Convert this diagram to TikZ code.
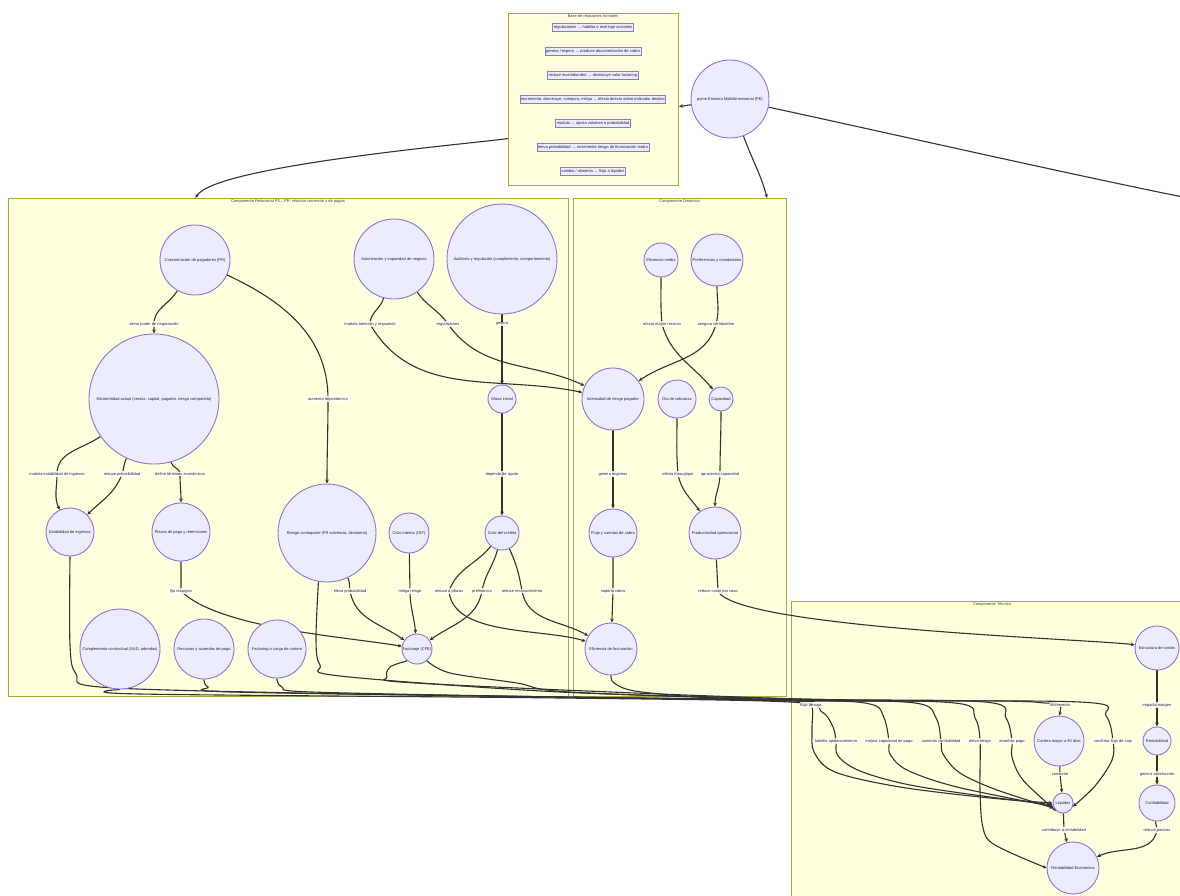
\documentclass[tikz,border=0pt]{standalone}
\usepackage{fontspec}
\setmainfont{Liberation Sans}
\usetikzlibrary{arrows.meta}
\pgfdeclarelayer{clusterlayer}
\pgfdeclarelayer{edgelayer}
\pgfsetlayers{clusterlayer,edgelayer,main}
\definecolor{clfill}{HTML}{FFFFDE}
\definecolor{clline}{HTML}{AAAA33}
\definecolor{ndfill}{HTML}{ECECFF}
\definecolor{ndline}{HTML}{9370DB}
\definecolor{edgecol}{HTML}{333333}
\newcommand\dgfont{\fontsize{4}{4.8}\selectfont}
\tikzset{
  circ/.style={circle, draw=ndline, fill=ndfill, line width=0.9pt, inner sep=0pt,
    minimum size=#1, font=\dgfont, text=black!85},
  itembox/.style={draw=ndline, fill=ndfill, line width=0.9pt, inner sep=1.2pt,
    minimum height=8pt, font=\dgfont, text=black!85},
  cluster/.style={draw=clline, fill=clfill, line width=1.1pt, anchor=north west, inner sep=0pt},
  ctitle/.style={font=\dgfont, text=black!75, inner sep=0pt},
  lbl/.style={fill=white, fill opacity=0.85, text opacity=1, inner sep=0.7pt,
    font=\dgfont, text=black!85},
  edge/.style={draw=edgecol, line width=1.1pt, -{Stealth[length=4pt,width=3.6pt]}},
  bund/.style={edge, smooth, tension=0.55}
}
\begin{document}
\begin{tikzpicture}[x=1pt,y=1pt]
\useasboundingbox (0,0) rectangle (1180,-896);
\clip (0,0) rectangle (1180,-896);

% ---------- cluster frames ----------
\begin{pgfonlayer}{clusterlayer}
  \node[cluster, minimum width=170, minimum height=172] (topbox) at (508,-13) {};
  \node[cluster, minimum width=560, minimum height=498] (relacional) at (8,-198) {};
  \node[cluster, minimum width=213, minimum height=498] (dinamico) at (573,-198) {};
  \node[cluster, minimum width=402, minimum height=340] (tecnico) at (791,-601) {};
\end{pgfonlayer}
\node[ctitle] (t0) at (593,-16.5) {Base de relaciones formales};
\node[ctitle] (t1) at (288,-201.5) {Componente Relacional PE→PR: relación comercial y de pagos};
\node[ctitle] (t2) at (679.5,-201.5) {Componente Dinámico};
\node[ctitle] (t3) at (992,-604.5) {Componente Técnico};

% ---------- legend items ----------
\node[itembox] (it1) at (593,-27) {regulaciones → habilita o restringe acciones};
\node[itembox] (it2) at (593,-51) {genera / espera → produce documentación de cobro};
\node[itembox] (it3) at (593,-75) {reduce incertidumbre → disminuye valor factoring};
\node[itembox] (it4) at (593,-99) {incrementa, disminuye, compara, mitiga → efecto directo sobre indicador destino};
\node[itembox] (it5) at (593,-123) {modula → ajusta volumen o probabilidad};
\node[itembox] (it6) at (593,-147) {eleva probabilidad → incrementa riesgo de financiación tardía};
\node[itembox] (it7) at (593,-171) {cambia / alimenta → flujo a liquidez};

\node[circ=78] (topc) at (730,-99) {pyme Emisora Multidimensional (PE)};
\coordinate (rt) at (1225,-205);

% ---------- relational component ----------
\node[circ=70]  (conc)      at (195,-260) {Concentración de pagadores (PR)};
\node[circ=130] (micro)     at (154,-399) {Microentidad actual (ventas, capital, pagador, riesgo compartido)};
\node[circ=48]  (estab)     at (70,-532)  {Estabilidad de ingresos};
\node[circ=58]  (plazos)    at (181,-532) {Plazos de pago y retenciones};
\node[circ=80]  (auth)      at (394,-259) {Autorización y capacidad de negocio};
\node[circ=110] (audit)     at (502,-259) {Auditoría y regulación (cumplimiento, comportamiento)};
\node[circ=28]  (glosa)     at (502,-399) {Glosa inicial};
\node[circ=98]  (riesgo)    at (327,-533) {Riesgo contraparte (PR solvencia, dicotomía)};
\node[circ=40]  (cicloint)  at (409,-533) {Ciclo interno (OIF)};
\node[circ=34]  (ciclo)     at (502,-533) {Ciclo del crédito};
\node[circ=30]  (factura)   at (417,-649) {Factoraje (CFE)};
\node[circ=80]  (compl)     at (120,-649) {Complemento contractual (SAD, adendas)};
\node[circ=60]  (recursos)  at (204,-649) {Recursos y acuerdos de pago};
\node[circ=58]  (factoring) at (277,-649) {Factoring o carga de cartera};

% ---------- dynamic component ----------
\node[circ=34] (efmedia) at (661,-260) {Eficiencia media};
\node[circ=52] (pref)    at (717,-260) {Preferencias y mandatarios};
\node[circ=62] (intens)  at (613,-399) {Intensidad de riesgo pagador};
\node[circ=38] (dia)     at (677,-399) {Día de cobranza};
\node[circ=24] (capac)   at (721,-399) {Capacidad};
\node[circ=48] (flujo)   at (613,-533) {Flujo y cuentas de cobro};
\node[circ=52] (product) at (715,-533) {Productividad operacional};
\node[circ=52] (efic)    at (611,-649) {Eficiencia de facturación};

% ---------- technical component ----------
\node[circ=44] (estruc)  at (1157,-648) {Estructura de costos};
\node[circ=28] (rentab)  at (1157,-741) {Rentabilidad};
\node[circ=36] (cofin)   at (1157,-803) {Confiabilidad};
\node[circ=50] (cartera) at (1059,-741) {Cartera mayor a 90 días};
\node[circ=20] (liq)     at (1063,-803) {Liquidez};
\node[circ=52] (renteco) at (1073,-868) {Rentabilidad Económica};

% ---------- edge labels ----------
\node[lbl] (L1)  at (154,-324) {altera poder de negociación};
\node[lbl] (L2)  at (328,-399) {aumenta dependencia};
\node[lbl] (L3)  at (57,-474)  {modula estabilidad de ingresos};
\node[lbl] (L4)  at (122,-474) {reduce previsibilidad};
\node[lbl] (L5)  at (180,-474) {define términos económicos};
\node[lbl] (L6)  at (370,-324) {modula atención y respuesta};
\node[lbl] (L7)  at (448,-324) {regulaciones};
\node[lbl] (L8)  at (502,-324) {genera};
\node[lbl] (L9)  at (502,-474) {depende de ajuste};
\node[lbl] (L10) at (350,-591) {eleva probabilidad};
\node[lbl] (L11) at (410,-591) {mitiga riesgo};
\node[lbl] (L12) at (449,-591) {reduce a plazos};
\node[lbl] (L13) at (482,-591) {prefinancia};
\node[lbl] (L14) at (522,-591) {reduce reconocimiento};
\node[lbl] (L15) at (181,-591) {fija recargos};
\node[lbl] (L17) at (662,-324) {afecta mayor recurso};
\node[lbl] (L18) at (716,-324) {asegura certidumbre};
\node[lbl] (L19) at (613,-474) {genera registros};
\node[lbl] (L20) at (678,-474) {afecta throughput};
\node[lbl] (L21) at (720,-474) {aprovecha capacidad};
\node[lbl] (L22) at (613,-591) {soporta cobro};
\node[lbl] (L23) at (718,-591) {reduce costo por caso};
\node[lbl] (L24) at (1157,-705) {impacta margen};
\node[lbl] (L25) at (1157,-774) {genera satisfacción};
\node[lbl] (L26) at (1157,-830) {reduce pasivos};
\node[lbl] (L27) at (1060,-774) {consume};
\node[lbl] (L28) at (1064,-830) {contribuye a rentabilidad};
\node[lbl] (T1) at (811,-705)  {flujo de caja};
\node[lbl] (T2) at (836,-741)  {habilita apalancamiento};
\node[lbl] (T3) at (889,-741)  {mejora capacidad de pago};
\node[lbl] (T4) at (941,-741)  {aumenta confiabilidad};
\node[lbl] (T5) at (980,-741)  {eleva riesgo};
\node[lbl] (T6) at (1012,-741) {amortiza pago};
\node[lbl] (T7) at (1060,-705) {incrementa};
\node[lbl] (T8) at (1113,-741) {confirma flujo de caja};

% ---------- connectors ----------
\begin{pgfonlayer}{edgelayer}
  % between groups
  \draw[edge] ([yshift=-39pt]topbox.west) to[out=188,in=60,looseness=0.3] ([xshift=-93pt]relacional.north);
  \draw[edge] (topc) -- ([yshift=-7pt]topbox.east);
  \draw[edge] (topc) to[out=-70,in=105] ([xshift=87pt]dinamico.north);
  \draw[edge] (topc) to[out=-12,in=170,looseness=0.5] (rt);

  % relational component
  \draw[edge] (conc) to[out=-120,in=90] (L1.center) to[out=-90,in=90] (micro);
  \draw[edge] (conc) to[out=-25,in=90] (L2.center) to[out=-90,in=90] (riesgo);
  \draw[edge] (micro) to[out=-145,in=90] (L3.center) to[out=-90,in=115] (estab);
  \draw[edge] (micro) to[out=-115,in=70] (L4.center) to[out=-110,in=45] (estab);
  \draw[edge] (micro) to[out=-75,in=90] (L5.center) to[out=-90,in=90] (plazos);
  \draw[edge] (auth) to[out=-105,in=90] (L6.center) to[out=-60,in=168] (intens);
  \draw[edge] (auth) to[out=-55,in=125] (L7.center) to[out=-55,in=155] (intens);
  \draw[edge] (audit) -- (L8.center) -- (glosa);
  \draw[edge] (glosa) -- (L9.center) -- (ciclo);
  \draw[edge] (riesgo) to[out=-65,in=100] (L10.center) to[out=-80,in=145] (factura);
  \draw[edge] (cicloint) -- (L11.center) to[out=-90,in=95] (factura);
  \draw[edge] (ciclo) to[out=-130,in=70] (L12.center) to[out=-85,in=163,looseness=0.8] (efic);
  \draw[edge] (ciclo) to[out=-105,in=80] (L13.center) to[out=-100,in=35] (factura);
  \draw[edge] (ciclo) to[out=-65,in=100] (L14.center) to[out=-80,in=150] (efic);
  \draw[edge] (plazos) -- (L15.center) to[out=-45,in=170,looseness=0.6] (factura);

  % dynamic component
  \draw[edge] (efmedia) to[out=-90,in=95] (L17.center) to[out=-75,in=130] (capac);
  \draw[edge] (pref) to[out=-90,in=75] (L18.center) to[out=-105,in=35] (intens);
  \draw[edge] (intens) -- (L19.center) -- (flujo);
  \draw[edge] (dia) to[out=-90,in=95] (L20.center) to[out=-80,in=125] (product);
  \draw[edge] (capac) to[out=-90,in=90] (L21.center) to[out=-90,in=90] (product);
  \draw[edge] (flujo) -- (L22.center) -- (efic);
  \draw[edge] (product) -- (L23.center) to[out=-65,in=172,looseness=0.25] (estruc);

  % technical component
  \draw[edge] (estruc) -- (L24.center) -- (rentab);
  \draw[edge] (rentab) -- (L25.center) -- (cofin);
  \draw[edge] (cofin) to[out=-95,in=80] (L26.center) to[out=-100,in=25] (renteco);
  \draw[edge] (cartera) -- (L27.center) -- (liq);
  \draw[edge] (liq) -- (L28.center) -- (renteco);

  % cash-flow bundle towards liquidity
  \draw[bund] plot coordinates {(estab.south) (70,-645) (76,-674) (100,-687) (300,-693) (560,-697) (790,-701)
      (T1.center) (812,-730) (814,-752) (835,-772) (900,-787) (990,-798) (liq.west)};
  \draw[bund] plot coordinates {(compl.south) (140,-694) (560,-698) (790,-702) (822,-712) (833,-727)
      (T2.center) (838,-756) (860,-771) (910,-785) (990,-797) (liq.190)};
  \draw[bund] plot coordinates {(recursos.south) (208,-687) (232,-692) (560,-697) (800,-700) (870,-704) (884,-718)
      (T3.center) (890,-754) (907,-770) (957,-787) (liq.200)};
  \draw[bund] plot coordinates {(factoring.south) (282,-687) (312,-692) (560,-697) (800,-700) (915,-703) (936,-718)
      (T4.center) (943,-754) (960,-773) (997,-790) (liq.210)};
  \draw[bund] plot coordinates {(riesgo.-100) (316,-640) (320,-665) (340,-676) (560,-692) (800,-699) (955,-703) (975,-718)
      (T5.center) (980,-790) (983,-828) (995,-845) (renteco.west)};
  \draw[bund] plot coordinates {(factura.-130) (390,-667) (387,-677) (400,-682) (563,-690) (800,-699) (985,-702) (1006,-718)
      (T6.center) (1012,-757) (1023,-780) (liq.230)};
  \draw[bund] plot coordinates {(factura.-50) (450,-673) (517,-683) (570,-692) (800,-700) (1000,-701) (1045,-703)
      (T7.center) (cartera.north)};
  \draw[bund] plot coordinates {(efic.south) (614,-683) (635,-691) (700,-697) (800,-701) (1080,-702) (1106,-716)
      (T8.center) (1112,-760) (1095,-786) (liq.-20)};
\end{pgfonlayer}
\end{tikzpicture}
\end{document}
